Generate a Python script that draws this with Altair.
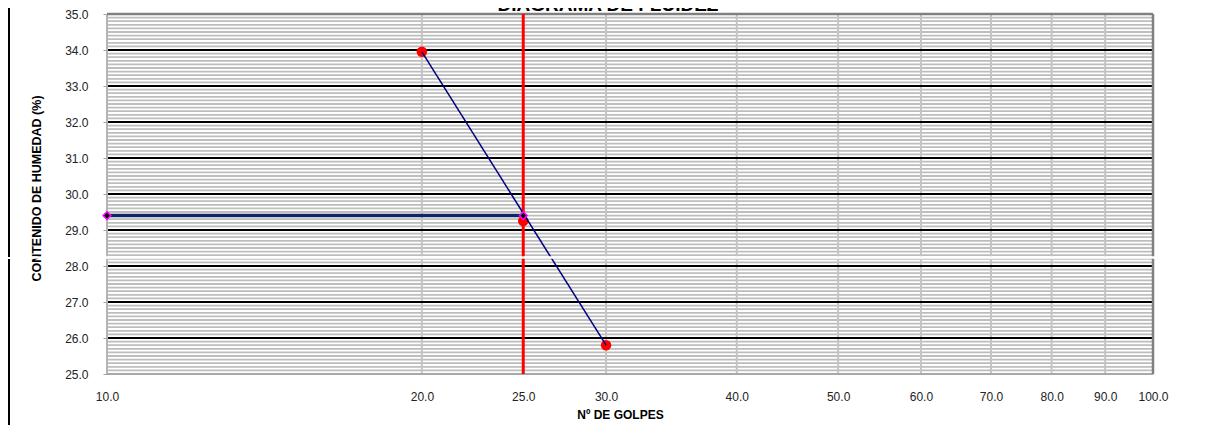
import altair as alt
import pandas as pd

TITLE = "DIAGRAMA DE FLUIDEZ"
X_TITLE = "Nº DE GOLPES"
Y_TITLE = "CONTENIDO DE HUMEDAD (%)"

# measured points (number of blows, moisture content)
golpes = [20, 25, 30]
humedad = [33.95, 29.25, 25.8]

# flow curve (trend line) end points
trend_golpes = [20, 30]
trend_humedad = [33.95, 25.8]

# liquid limit read at 25 blows
ll_golpes = [10, 25]
ll_humedad = [29.4, 29.4]
limite_golpes = [25]

x_ticks = [10, 20, 25, 30, 40, 50, 60, 70, 80, 90, 100]
x_grid = [10, 20, 30, 40, 50, 60, 70, 80, 90, 100]
y_major = [25, 26, 27, 28, 29, 30, 31, 32, 33, 34, 35]
y_minor = [round(25 + 0.1 * i, 1) for i in range(101)]

FONT = "Liberation Sans"
W, H = 1046, 360

xs = alt.Scale(type="log", domain=[10, 100], nice=False)
ys = alt.Scale(domain=[25, 35], nice=False, zero=False)

xaxis = alt.Axis(
    values=x_ticks, format=".1f", title=X_TITLE, grid=False, domain=False,
    ticks=False, labelPadding=17, labelOverlap=False, labelFlush=False,
    labelFontSize=12, labelColor="#222222", labelFont=FONT,
    titleFont=FONT, titleFontSize=12, titleFontWeight="bold",
    titleColor="#000000", titleX=513, titleY=40, titleBaseline="middle",
)
yaxis = alt.Axis(
    values=y_major, format=".1f", title=Y_TITLE, grid=False, domain=False,
    tickSize=4, tickColor="#a0a0a0", tickWidth=1, labelPadding=15,
    labelFontSize=12, labelColor="#222222", labelFont=FONT,
    titleFont=FONT, titleFontSize=12.5, titleFontWeight="bold",
    titleColor="#000000", titleX=-71, titleY=174, titleBaseline="middle",
)


def X(f):
    return alt.X(f, scale=xs, axis=xaxis, title=X_TITLE)


def Y(f):
    return alt.Y(f, scale=ys, axis=yaxis, title=Y_TITLE)


one = pd.DataFrame({"k": [0]})

minor = alt.Chart(pd.DataFrame({"v": y_minor})).mark_rule(
    color="#bdbdbd", strokeWidth=1.8
).encode(y=Y("v:Q"))

vgrid = alt.Chart(pd.DataFrame({"v": x_grid})).mark_rule(
    color="#c4c4c4", strokeWidth=2
).encode(x=X("v:Q"))

major = alt.Chart(pd.DataFrame({"v": y_major})).mark_rule(
    color="#000000", strokeWidth=2
).encode(y=Y("v:Q"))

b_top = alt.Chart(one).mark_rule(color="#808080", strokeWidth=2.5).encode(y=alt.value(0))
b_right = alt.Chart(one).mark_rule(color="#808080", strokeWidth=2.5).encode(x=alt.value(W))
b_left = alt.Chart(one).mark_rule(color="#b4b4b4", strokeWidth=2).encode(x=alt.value(0))
b_bottom = alt.Chart(one).mark_rule(color="#a8a8a8", strokeWidth=2).encode(y=alt.value(H))

red = alt.Chart(pd.DataFrame({"v": limite_golpes})).mark_rule(
    color="#ff0000", strokeWidth=3
).encode(x=X("v:Q"))

pts = alt.Chart(pd.DataFrame({"g": golpes, "h": humedad})).mark_circle(
    color="#ff0000", size=110, opacity=1
).encode(x=X("g:Q"), y=Y("h:Q"))

trend = alt.Chart(pd.DataFrame({"g": trend_golpes, "h": trend_humedad})).mark_line(
    color="#000080", strokeWidth=1.5
).encode(x=X("g:Q"), y=Y("h:Q"))

ll_line = alt.Chart(pd.DataFrame({"g": ll_golpes, "h": ll_humedad})).mark_line(
    color="#0d2466", strokeWidth=3.5
).encode(x=X("g:Q"), y=Y("h:Q"))

ll_pts = alt.Chart(pd.DataFrame({"g": ll_golpes, "h": ll_humedad})).mark_point(
    shape="diamond", filled=True, fill="#000000", stroke="#ff00ff",
    strokeWidth=1.5, size=60, opacity=1, fillOpacity=1, strokeOpacity=1
).encode(x=X("g:Q"), y=Y("h:Q"))

band = alt.Chart(one).mark_rule(color="#ffffff", strokeWidth=2.5).encode(
    x=alt.value(-107), x2=alt.value(W + 4), y=alt.value(243.5)
)

frame_left = alt.Chart(one).mark_rule(color="#000000", strokeWidth=2).encode(
    x=alt.value(-98), y=alt.value(-6), y2=alt.value(243)
)
frame_left2 = alt.Chart(one).mark_rule(color="#000000", strokeWidth=2).encode(
    x=alt.value(-98), y=alt.value(245), y2=alt.value(430)
)

title = alt.Chart(pd.DataFrame({"t": [TITLE]})).mark_text(
    font=FONT, fontSize=19, fontWeight="bold", color="#000000",
    align="center", baseline="alphabetic"
).encode(x=alt.value(501), y=alt.value(-3), text="t:N")

chart = alt.layer(
    minor, vgrid, major, b_left, b_bottom, b_top, b_right, red,
    pts, trend, ll_line, ll_pts, band, frame_left, frame_left2, title
).properties(
    width=W, height=H,
    padding={"left": 99, "top": 6, "right": 50, "bottom": 51},
    autosize=alt.AutoSizeParams(type="none"),
).configure_view(stroke=None).configure(background="#ffffff")

chart.save("out.html", embed_options={"renderer": "svg", "actions": False})
